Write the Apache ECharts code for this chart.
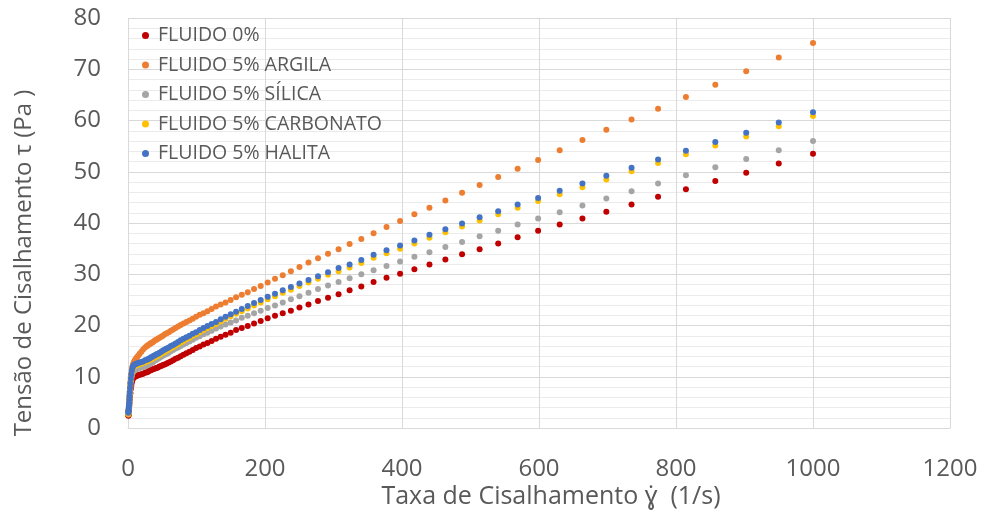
<!DOCTYPE html>
<html>
<head>
<meta charset="utf-8">
<script src="https://cdn.jsdelivr.net/npm/echarts@6/dist/echarts.min.js"></script>
<style>
html,body{margin:0;padding:0;background:#fff;}
#chart{width:984px;height:518px;}
</style>
</head>
<body>
<div id="chart"></div>
<script>
// Shear rate (1/s)
var shearRate = [1000, 950, 902.5, 857.4, 814.5, 773.8, 735.1, 698.3, 663.4, 630.2,
  598.7, 568.8, 540.4, 513.3, 487.7, 463.3, 440.1, 418.1, 397.2, 377.4,
  358.5, 340.6, 323.5, 307.4, 292.0, 277.4, 263.5, 250.3, 237.8, 225.9,
  214.6, 203.9, 193.7, 184.0, 174.8, 166.1, 157.8, 149.9, 142.4, 135.3,
  128.5, 122.1, 116.0, 110.2, 104.7, 99.4, 94.5, 89.7, 85.2, 81.0,
  76.9, 73.1, 69.4, 65.9, 62.6, 59.5, 56.5, 53.7, 51.0, 48.5,
  46.0, 43.7, 41.5, 39.5, 37.5, 35.6, 33.8, 32.1, 30.5, 29.0,
  27.6, 25, 22, 19.5, 17, 15, 13, 11.5, 10, 8.7,
  7.5, 6.5, 5.6, 4.8, 4.1, 3.5, 3.0, 2.6, 2.2, 1.9,
  1.6, 1.35, 1.15, 1.0, 0.85, 0.7, 0.6, 0.5];

var fluido0 = [53.5, 51.6, 49.8, 48.2, 46.6, 45.1, 43.6, 42.2, 40.9, 39.7,
  38.5, 37.2, 36.0, 34.9, 33.9, 32.9, 31.9, 31.0, 30.1, 29.3,
  28.5, 27.6, 26.9, 26.1, 25.4, 24.8, 24.1, 23.5, 22.9, 22.4,
  21.9, 21.4, 20.9, 20.4, 19.9, 19.5, 19.1, 18.6, 18.2, 17.8,
  17.4, 17.0, 16.6, 16.3, 15.9, 15.6, 15.2, 14.9, 14.6, 14.3,
  14.0, 13.7, 13.5, 13.2, 13.0, 12.8, 12.6, 12.4, 12.3, 12.1,
  12.0, 11.8, 11.7, 11.6, 11.5, 11.4, 11.3, 11.2, 11.1, 11.0,
  10.9, 10.8, 10.6, 10.5, 10.4, 10.3, 10.2, 10.1, 10.0, 9.9,
  9.7, 9.4, 8.9, 8.3, 7.6, 6.8, 6.1, 5.5, 4.9, 4.4,
  3.9, 3.5, 3.2, 2.9, 2.7, 2.6, 2.5, 2.4];

var argila = [75.1, 72.3, 69.6, 67.0, 64.6, 62.3, 60.2, 58.2, 56.2, 54.2,
  52.3, 50.6, 49.0, 47.4, 45.9, 44.4, 43.0, 41.7, 40.4, 39.2,
  38.0, 36.9, 35.9, 34.9, 34.0, 33.1, 32.3, 31.4, 30.6, 29.8,
  29.1, 28.4, 27.7, 27.1, 26.5, 26.0, 25.5, 25.0, 24.5, 24.1,
  23.7, 23.2, 22.8, 22.4, 22.1, 21.7, 21.3, 21.0, 20.7, 20.4,
  20.1, 19.8, 19.5, 19.2, 19.0, 18.7, 18.5, 18.3, 18.0, 17.8,
  17.6, 17.4, 17.2, 17.1, 16.9, 16.7, 16.6, 16.4, 16.3, 16.1,
  16.0, 15.7, 15.3, 14.9, 14.5, 14.1, 13.8, 13.5, 13.2, 12.9,
  12.5, 12.0, 11.4, 10.7, 9.9, 9.0, 8.1, 7.2, 6.4, 5.6,
  4.9, 4.3, 3.8, 3.4, 3.1, 2.9, 2.7, 2.6];

var silica = [56.0, 54.2, 52.5, 50.9, 49.3, 47.7, 46.2, 44.8, 43.4, 42.1,
  40.9, 39.7, 38.5, 37.4, 36.3, 35.3, 34.3, 33.4, 32.5, 31.6,
  30.8, 30.0, 29.2, 28.5, 27.8, 27.1, 26.4, 25.7, 25.1, 24.5,
  23.9, 23.4, 22.9, 22.4, 21.9, 21.5, 21.0, 20.6, 20.2, 19.8,
  19.4, 19.0, 18.6, 18.3, 17.9, 17.6, 17.2, 16.9, 16.6, 16.3,
  16.0, 15.7, 15.5, 15.2, 15.0, 14.7, 14.5, 14.3, 14.1, 13.9,
  13.7, 13.5, 13.3, 13.2, 13.0, 12.8, 12.7, 12.5, 12.4, 12.3,
  12.2, 12.0, 11.9, 11.8, 11.7, 11.6, 11.5, 11.4, 11.3, 11.2,
  11.0, 10.7, 10.2, 9.6, 8.9, 8.1, 7.3, 6.6, 5.9, 5.3,
  4.7, 4.2, 3.8, 3.5, 3.2, 3.0, 2.9, 2.8];

var carbonato = [60.9, 58.9, 56.9, 55.1, 53.4, 51.7, 50.1, 48.5, 47.0, 45.6,
  44.3, 43.0, 41.7, 40.5, 39.3, 38.2, 37.1, 36.0, 35.0, 34.1,
  33.2, 32.2, 31.3, 30.6, 29.9, 29.1, 28.4, 27.7, 27.0, 26.4,
  25.7, 25.1, 24.5, 23.9, 23.3, 22.8, 22.3, 21.8, 21.3, 20.8,
  20.3, 19.9, 19.5, 19.1, 18.7, 18.3, 18.0, 17.6, 17.3, 17.0,
  16.7, 16.4, 16.1, 15.8, 15.6, 15.3, 15.1, 14.9, 14.7, 14.5,
  14.3, 14.1, 14.0, 13.8, 13.7, 13.5, 13.4, 13.3, 13.2, 13.1,
  13.0, 12.9, 12.7, 12.6, 12.5, 12.4, 12.3, 12.2, 12.1, 12.0,
  11.8, 11.4, 10.8, 10.1, 9.3, 8.4, 7.5, 6.7, 5.9, 5.3,
  4.7, 4.2, 3.8, 3.5, 3.2, 3.0, 2.9, 2.8];

var halita = [61.6, 59.6, 57.6, 55.8, 54.1, 52.4, 50.8, 49.2, 47.7, 46.3,
  44.9, 43.6, 42.3, 41.1, 39.9, 38.8, 37.7, 36.6, 35.6, 34.7,
  33.8, 32.8, 31.9, 31.2, 30.4, 29.6, 28.9, 28.2, 27.5, 26.9,
  26.2, 25.6, 25.0, 24.4, 23.8, 23.2, 22.7, 22.2, 21.7, 21.2,
  20.7, 20.3, 19.9, 19.5, 19.1, 18.7, 18.4, 18.0, 17.7, 17.4,
  17.1, 16.8, 16.5, 16.2, 16.0, 15.7, 15.5, 15.3, 15.1, 14.9,
  14.7, 14.5, 14.4, 14.2, 14.1, 13.9, 13.8, 13.6, 13.5, 13.4,
  13.3, 13.2, 13.0, 12.9, 12.8, 12.7, 12.6, 12.5, 12.4, 12.3,
  12.1, 11.7, 11.1, 10.4, 9.6, 8.7, 7.8, 7.0, 6.2, 5.5,
  4.9, 4.4, 4.0, 3.6, 3.4, 3.2, 3.1, 3.0];

var seriesNames = ['FLUIDO 0%', 'FLUIDO 5% ARGILA', 'FLUIDO 5% SÍLICA', 'FLUIDO 5% CARBONATO', 'FLUIDO 5% HALITA'];
var seriesValues = [fluido0, argila, silica, carbonato, halita];
var seriesColors = ['#C00000', '#ED7D31', '#A5A5A5', '#FFC000', '#4472C4'];

var xTitle = 'Taxa de Cisalhamento \u0263\u0307  (1/s)';
var yTitle = 'Tensão de Cisalhamento τ (Pa )';

var FONT = '"Open Sans", "Noto Sans", sans-serif';
var TXT = '#595959';

function pairs(ys) {
  return shearRate.map(function (x, i) { return [x, ys[i]]; });
}

var chart = echarts.init(document.getElementById('chart'), null, {renderer: 'canvas'});
chart.setOption({
  animation: false,
  backgroundColor: '#ffffff',
  grid: {left: 128, right: 34, top: 18, bottom: 90, containLabel: false},
  legend: {
    orient: 'vertical',
    left: 137,
    top: 19,
    icon: 'circle',
    itemWidth: 7,
    itemHeight: 7,
    itemGap: 6.5,
    data: seriesNames,
    textStyle: {color: TXT, fontSize: 19.5, fontFamily: FONT, lineHeight: 23, padding: [0, 0, 0, 4]}
  },
  xAxis: {
    type: 'value',
    min: 0, max: 1200, interval: 200,
    axisLine: {show: true, lineStyle: {color: '#D9D9D9', width: 1}},
    axisTick: {show: false},
    axisLabel: {color: TXT, fontSize: 24, fontFamily: FONT, margin: 29,
      formatter: function (v) { return String(v); }},
    splitLine: {show: true, lineStyle: {color: '#D9D9D9', width: 1}}
  },
  yAxis: {
    type: 'value',
    min: 0, max: 80, interval: 10,
    axisLine: {show: false},
    axisTick: {show: false},
    axisLabel: {color: TXT, fontSize: 24, fontFamily: FONT, margin: 27},
    splitLine: {show: true, lineStyle: {color: '#D9D9D9', width: 1}},
    minorTick: {show: false, splitNumber: 5},
    minorSplitLine: {show: true, lineStyle: {color: '#EBEBEB', width: 1}}
  },
  graphic: [
    {type: 'text', rotation: Math.PI / 2, x: 24, y: 263,
     style: {text: yTitle, font: '24px ' + FONT, fill: TXT, textAlign: 'center', textVerticalAlign: 'middle'}},
    {type: 'text', x: 551, y: 497,
     style: {text: xTitle, font: '25px ' + FONT, fill: TXT, textAlign: 'center', textVerticalAlign: 'middle'}}
  ],
  series: seriesValues.map(function (vals, i) {
    return {
      name: seriesNames[i],
      type: 'scatter',
      symbol: 'circle',
      symbolSize: 6,
      itemStyle: {color: seriesColors[i], opacity: 1},
      data: pairs(vals)
    };
  })
});
</script>
</body>
</html>
